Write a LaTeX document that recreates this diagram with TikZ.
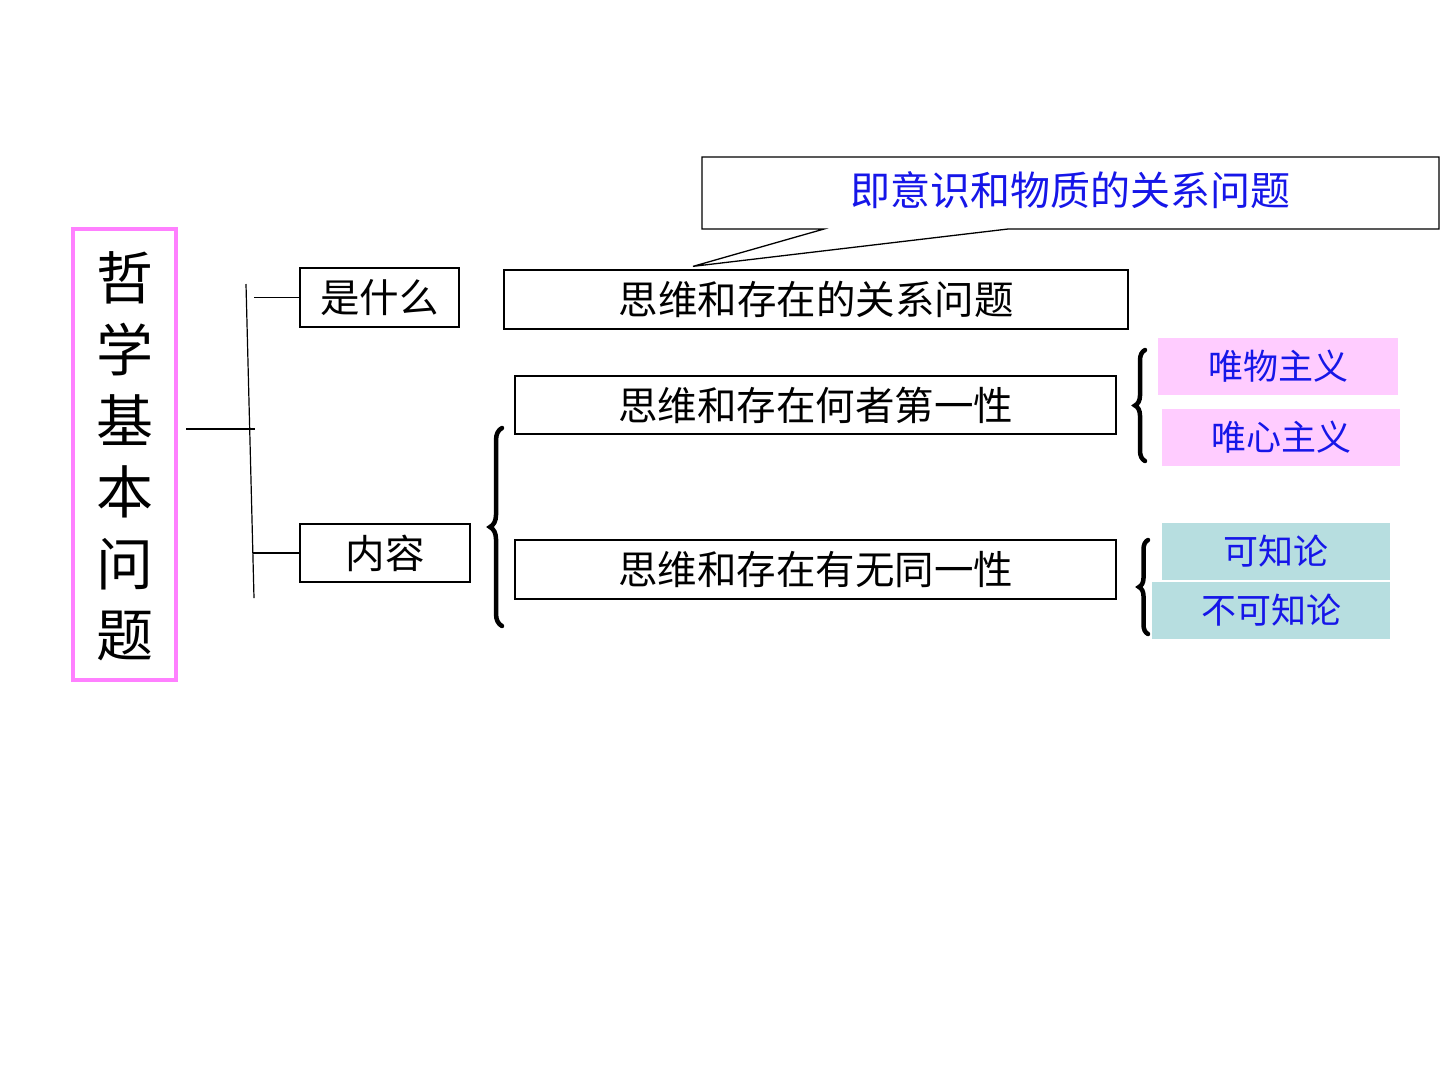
\documentclass[tikz,border=0pt]{standalone}
\usepackage{fontspec}
\newfontfamily\cjk{Noto Sans CJK SC}
\usetikzlibrary{positioning, calc, decorations.pathreplacing}
\definecolor{framepink}{RGB}{255, 128, 255}
\definecolor{softpink}{RGB}{255, 204, 255}
\definecolor{softteal}{RGB}{183, 222, 224}
\definecolor{inkblue}{RGB}{22, 22, 232}

\begin{document}
\begin{tikzpicture}[
  x=1pt, y=-1pt,
  every node/.style={font=\cjk},
  plainbox/.style={draw=black, line width=1.3pt, inner sep=0pt, font=\cjk\fontsize{39.5}{41}\selectfont},
  tagbox/.style={inner sep=0pt, text=inkblue, font=\cjk\fontsize{35}{37}\selectfont},
  link/.style={draw=black, line width=1.2pt},
  curly/.style={draw=black, line width=4.5pt, line cap=round, decorate, decoration={brace, amplitude=#1}}
]
  \useasboundingbox (0,0) rectangle (1440,1080);

  % title column
  \node[draw=framepink, line width=4.5pt, minimum width=103pt, minimum height=451pt, inner sep=0pt] (title) at (124.5, 454.5) {};
  \node[align=center, font=\cjk\fontsize{57}{71.4}\selectfont] (titletext) at (124.5, 456.5) {哲\\学\\基\\本\\问\\题};

  % first level
  \node[plainbox, minimum width=159pt, minimum height=59pt] (what) at (379.5, 297.5) {是什么};
  \node[plainbox, minimum width=170pt, minimum height=58pt] (content) at (385, 553) {内容};
  \coordinate (trunktop) at (246, 284);
  \coordinate (trunkbot) at (254, 598);
  \coordinate (stem) at (186, 429);
  \draw[link] (trunktop) -- (trunkbot);
  \draw[link] (stem) -- ++(69, 0);
  \draw[link] (what.west) -- ++(-45, 0);
  \draw[link] (content.west) -- ++(-46, 0);

  % second level
  \node[plainbox, minimum width=624pt, minimum height=59pt] (relation) at (816, 299.5) {思维和存在的关系问题};
  \node[plainbox, minimum width=601pt, minimum height=58pt] (primacy) at (815.5, 405) {思维和存在何者第一性};
  \node[plainbox, minimum width=601pt, minimum height=59pt] (identity) at (815.5, 569.5) {思维和存在有无同一性};

  % callout
  \draw[line width=1.3pt]
    (702, 157) -- (1439, 157) -- (1439, 229) -- (1008, 229)
    -- ($(relation.north)+(-123, -3)$) -- (824, 229) -- (702, 229) -- cycle;
  \node[text=inkblue, font=\cjk\fontsize{40}{42}\selectfont] (note) at (1070, 190) {即意识和物质的关系问题};

  % third level
  \node[tagbox, fill=softpink, minimum width=240pt, minimum height=57pt] (matter) at (1278, 366.5) {唯物主义};
  \node[tagbox, fill=softpink, minimum width=238pt, minimum height=57pt] (mind) at (1281, 437.5) {唯心主义};
  \node[tagbox, fill=softteal, minimum width=228pt, minimum height=57pt] (know) at (1276, 551.5) {可知论};
  \node[tagbox, fill=softteal, minimum width=238pt, minimum height=57pt] (unknow) at (1271, 610.5) {不可知论};

  % braces
  \draw[curly=12pt] (502, 626) -- (502, 428);
  \draw[curly=10pt] (1145, 461) -- (1145, 350);
  \draw[curly=9pt] (1148, 634) -- (1148, 540);
\end{tikzpicture}
\end{document}
